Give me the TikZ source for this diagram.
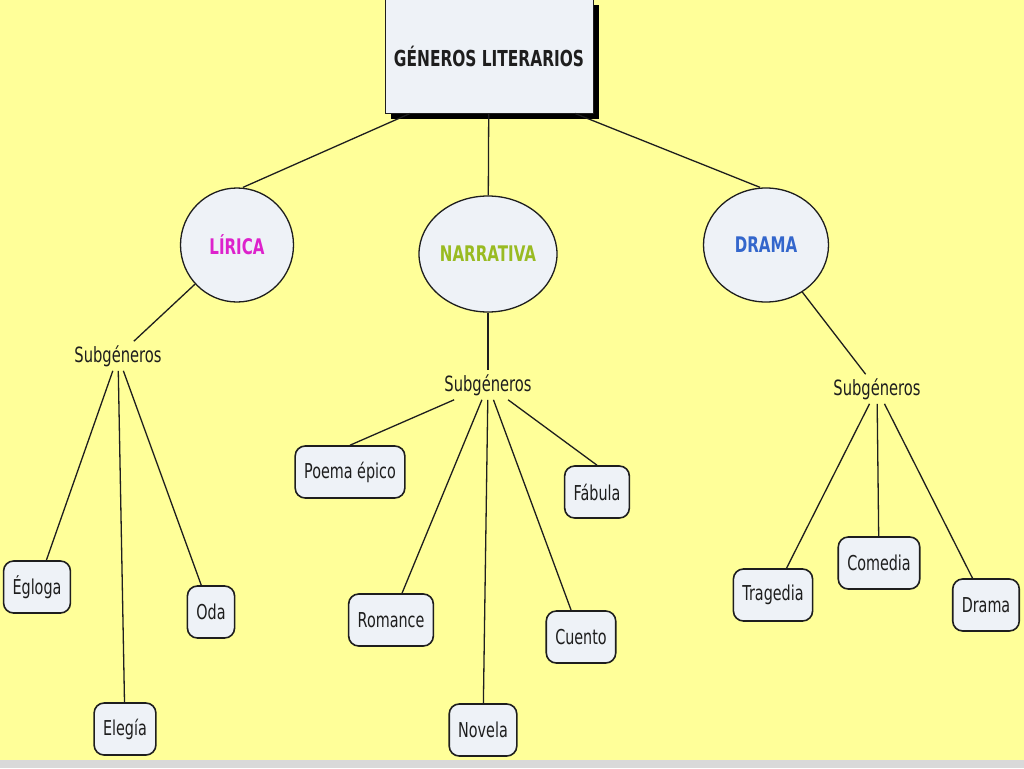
\documentclass[tikz,border=0pt]{standalone}
\usepackage{fontspec}
\usepackage{tikz}
\usetikzlibrary{shapes.geometric}
\usetikzlibrary{shadows}
\newfontfamily\mapfont[FakeStretch=0.7]{DejaVu Sans}
\definecolor{mapyellow}{HTML}{FFFF99}
\definecolor{mapfill}{HTML}{EEF2F7}
\definecolor{mapline}{HTML}{1E1E1E}
\definecolor{liricacol}{HTML}{DD22CC}
\definecolor{narrcol}{HTML}{99BB22}
\definecolor{dramacol}{HTML}{3366CC}

\begin{document}
\begin{tikzpicture}[x=1pt,y=-1pt,
  link/.style={draw=mapline,line width=1.3pt},
  titlebox/.style={draw=mapline,line width=1pt,fill=mapfill,minimum width=208pt,minimum height=114pt,
    font=\mapfont\bfseries\fontsize{22}{24}\selectfont,text=mapline,
    drop shadow={shadow xshift=6pt,shadow yshift=-6pt,fill=black,opacity=1}},
  genre/.style={ellipse,draw=mapline,line width=1.3pt,fill=mapfill,inner sep=0pt,
    font=\mapfont\bfseries\fontsize{21.5}{24}\selectfont},
  subtag/.style={inner sep=4pt,font=\mapfont\fontsize{21}{24}\selectfont,text=mapline},
  leaf/.style={draw=mapline,line width=1.6pt,fill=mapfill,rounded corners=10pt,
    inner xsep=9pt,minimum height=52pt,font=\mapfont\fontsize{20.5}{24}\selectfont,text=mapline}]
  \fill[mapyellow] (0,0) rectangle (1024,768);
  \fill[black!15] (0,760) rectangle (1024,768);
  \useasboundingbox (0,0) rectangle (1024,768);

  \node[titlebox] (generos) at (489,56) {GÉNEROS LITERARIOS};

  \node[genre,minimum width=113pt,minimum height=114pt,text=liricacol] (lirica) at (237,245) {LÍRICA};
  \node[genre,minimum width=138pt,minimum height=116pt,text=narrcol] (narrativa) at (488,254) {NARRATIVA};
  \node[genre,minimum width=125pt,minimum height=114pt,text=dramacol] (drama) at (766,245) {DRAMA};

  \node[subtag] (subl) at (118,356) {Subgéneros};
  \node[subtag] (subm) at (488,385) {Subgéneros};
  \node[subtag] (subr) at (877,389) {Subgéneros};

  \node[leaf] (egloga) at (37,587) {Égloga};
  \node[leaf] (oda) at (211,612) {Oda};
  \node[leaf] (elegia) at (125,729) {Elegía};

  \node[leaf] (poema) at (350,472) {Poema épico};
  \node[leaf] (fabula) at (597,492) {Fábula};
  \node[leaf] (romance) at (391,620) {Romance};
  \node[leaf] (novela) at (483,730) {Novela};
  \node[leaf] (cuento) at (581,637) {Cuento};

  \node[leaf] (tragedia) at (773,595) {Tragedia};
  \node[leaf] (comedia) at (879,563) {Comedia};
  \node[leaf] (dramaleaf) at (986,605) {Drama};

  \draw[link] ([xshift=-79pt]generos.south) -- ([xshift=6pt]lirica.north);
  \draw[link] (generos) -- (narrativa);
  \draw[link] ([xshift=86pt]generos.south) -- ([xshift=-6pt]drama.north);
  \draw[link] (lirica) -- (subl);
  \draw[link] (narrativa) -- (subm);
  \draw[link] (drama) -- (subr);
  \draw[link] (subl) -- (egloga);
  \draw[link] (subl) -- (elegia);
  \draw[link] (subl) -- (oda);
  \draw[link] (subm) -- (poema.north);
  \draw[link] (subm) -- (romance);
  \draw[link] (subm) -- (novela);
  \draw[link] (subm) -- (cuento);
  \draw[link] (subm) -- (fabula.north);
  \draw[link] (subr) -- (tragedia);
  \draw[link] (subr) -- (comedia);
  \draw[link] (subr) -- (dramaleaf);
\end{tikzpicture}
\end{document}
